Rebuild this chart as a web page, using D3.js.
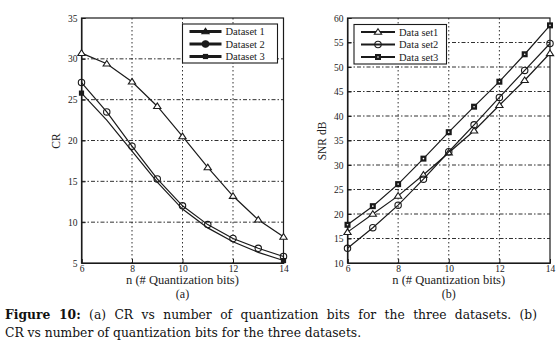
<!DOCTYPE html>
<html>
<head>
<meta charset="utf-8">
<script src="https://cdn.jsdelivr.net/npm/d3@7"></script>
<style>
  body { margin: 0; background: #fff; }
  svg { display: block; }
  .serif { font-family: "Liberation Serif", serif; fill: #222; }
  .cap { font-family: "DejaVu Serif", serif; font-size: 12.3px; fill: #111; }
</style>
</head>
<body>
<svg id="svg" width="559" height="350"></svg>
<script>
const bits = [6, 7, 8, 9, 10, 11, 12, 13, 14]

// (a) compression ratio
const cr1 = [30.7, 29.4, 27.2, 24.2, 20.5, 16.7, 13.2, 10.3, 8.2]
const cr2 = [27.1, 23.5, 19.3, 15.3, 12.0, 9.7, 8.0, 6.8, 5.8]
const cr3 = [25.8, 22.5, 18.7, 14.9, 11.6, 9.3, 7.6, 6.3, 5.3]
const crNames = ['Dataset 1', 'Dataset 2', 'Dataset 3']
const crTicks = [5, 10, 15, 20, 25, 30, 35]

// (b) SNR
const snr1 = [16.3, 20.0, 23.7, 28.0, 32.5, 37.0, 42.2, 47.3, 52.8]
const snr2 = [13.0, 17.2, 21.8, 27.1, 32.7, 38.2, 43.8, 49.3, 54.8]
const snr3 = [17.8, 21.6, 26.1, 31.3, 36.7, 41.9, 47.0, 52.6, 58.5]
const snrNames = ['Data set1', 'Data set2', 'Data set3']
const snrTicks = [10, 15, 20, 25, 30, 35, 40, 45, 50, 55, 60]

const xTicks = [6, 8, 10, 12, 14]
const ink = '#1a1a1a'

const svg = d3.select('#svg')

function marker(g, shape, x, y, filled, size) {
  if (shape === 'tri') {
    const s = size
    g.append('path')
      .attr('d', `M${x},${y - s}L${x + s * 1.1},${y + s * 0.7}L${x - s * 1.1},${y + s * 0.7}Z`)
      .attr('fill', filled ? ink : '#fff').attr('stroke', ink).attr('stroke-width', 1.1)
  } else if (shape === 'circ') {
    g.append('circle').attr('cx', x).attr('cy', y).attr('r', size)
      .attr('fill', filled ? ink : 'none').attr('stroke', ink).attr('stroke-width', 1.1)
  } else {
    g.append('rect').attr('x', x - size).attr('y', y - size)
      .attr('width', size * 2).attr('height', size * 2).attr('fill', ink)
    if (!filled) {
      g.append('circle').attr('cx', x).attr('cy', y).attr('r', 0.8).attr('fill', '#fff')
    }
  }
}

function panel(opt) {
  const x = d3.scaleLinear().domain([6, 14]).range([opt.left, opt.right])
  const y = d3.scaleLinear().domain(opt.yDomain).range([263, 18])
  const g = svg.append('g')

  // grid
  g.selectAll('.gx').data(xTicks.slice(1, -1)).enter().append('line')
    .attr('x1', d => x(d)).attr('x2', d => x(d)).attr('y1', 18).attr('y2', 263)
    .attr('stroke', ink).attr('stroke-width', 0.9).attr('stroke-dasharray', '1.5,2.5')
  g.selectAll('.gy').data(opt.yTicks.slice(1, -1)).enter().append('line')
    .attr('x1', opt.left).attr('x2', opt.right).attr('y1', d => y(d)).attr('y2', d => y(d))
    .attr('stroke', ink).attr('stroke-width', 0.9).attr('stroke-dasharray', '4,2,1.5,2')

  // axes
  g.append('g').attr('transform', 'translate(0,263)')
    .call(d3.axisBottom(x).tickValues(xTicks).tickSize(-4).tickPadding(2).tickFormat(d3.format('d')))
  g.append('g').attr('transform', `translate(${opt.left},0)`)
    .call(d3.axisLeft(y).tickValues(opt.yTicks).tickSize(-4).tickPadding(4).tickFormat(d3.format('d')))
  g.selectAll('.tick text').attr('class', 'serif').style('font-size', '9.5px').attr('fill', '#333')
  g.selectAll('.domain, .tick line').attr('stroke', ink)
  g.append('rect').attr('x', opt.left).attr('y', 18).attr('width', opt.right - opt.left).attr('height', 245)
    .attr('fill', 'none').attr('stroke', ink).attr('stroke-width', 1.2)

  // series
  const line = d3.line().x((d, i) => x(bits[i])).y(d => y(d))
  opt.series.forEach(s => {
    g.append('path').datum(s.values).attr('d', line)
      .attr('fill', 'none').attr('stroke', ink).attr('stroke-width', 1.2)
    s.values.forEach((v, i) => {
      if (s.only && !s.only.includes(i)) return
      marker(g, s.shape, x(bits[i]), y(v), s.filled, s.size)
    })
  })

  // labels
  const cx = (opt.left + opt.right) / 2
  g.append('text').attr('class', 'serif').attr('x', cx).attr('y', 284).attr('text-anchor', 'middle')
    .style('font-size', '12.5px').text('n (# Quantization bits)')
  g.append('text').attr('class', 'serif').attr('x', cx).attr('y', 297.5).attr('text-anchor', 'middle')
    .style('font-size', '12px').text(opt.tag)
  g.append('text').attr('class', 'serif').attr('transform', `translate(${opt.left - 22},${opt.yLabelAt}) rotate(-90)`)
    .attr('text-anchor', 'middle').style('font-size', '11.5px').text(opt.yLabel)

  // legend
  const L = opt.legend
  g.append('rect').attr('x', L.x).attr('y', L.y).attr('width', L.w).attr('height', L.h)
    .attr('fill', '#fff').attr('stroke', ink).attr('stroke-width', 1.1)
  opt.series.forEach((s, i) => {
    const ly = L.y + 7.5 + i * 12.5
    g.append('line').attr('x1', L.x + 7).attr('x2', L.x + 7 + L.len).attr('y1', ly).attr('y2', ly)
      .attr('stroke', ink).attr('stroke-width', L.lw)
    marker(g, s.shape, L.x + 7 + L.len / 2, ly, L.fillAll || s.filled, s.size)
    g.append('text').attr('class', 'serif').attr('x', L.x + 11 + L.len).attr('y', ly + 3.5)
      .style('font-size', '10.5px').text(s.name)
  })
}

panel({
  left: 81.5, right: 283.5, yDomain: [5, 35], yTicks: crTicks,
  yLabel: 'CR', yLabelAt: 141, tag: '(a)',
  legend: { x: 182.5, y: 24, w: 95, h: 39, len: 32, lw: 3, fillAll: true },
  series: [
    { name: crNames[0], values: cr1, shape: 'tri', filled: false, size: 3.3 },
    { name: crNames[1], values: cr2, shape: 'circ', filled: false, size: 3.2 },
    { name: crNames[2], values: cr3, shape: 'sq', filled: true, size: 2.6, only: [0, 8] }
  ]
})

panel({
  left: 347.5, right: 550, yDomain: [10, 60], yTicks: snrTicks,
  yLabel: 'SNR dB', yLabelAt: 141, tag: '(b)',
  legend: { x: 354, y: 24.5, w: 92.5, h: 39.5, len: 34, lw: 2, fillAll: false },
  series: [
    { name: snrNames[0], values: snr1, shape: 'tri', filled: false, size: 3.3 },
    { name: snrNames[1], values: snr2, shape: 'circ', filled: false, size: 3.2 },
    { name: snrNames[2], values: snr3, shape: 'sq', filled: false, size: 3 }
  ]
})

// caption, first line justified to the text width
const l1 = svg.append('text').attr('class', 'cap').attr('x', 5).attr('y', 319)
l1.append('tspan').style('font-weight', 'bold').text('Figure 10:')
l1.append('tspan').text(' (a) CR vs number of quantization bits for the three datasets. (b)')
const gaps = 13
const extra = (532 - l1.node().getComputedTextLength()) / gaps
if (extra > 0) l1.style('word-spacing', extra + 'px')
svg.append('text').attr('class', 'cap').attr('x', 5).attr('y', 337)
  .text('CR vs number of quantization bits for the three datasets.')
</script>
</body>
</html>
